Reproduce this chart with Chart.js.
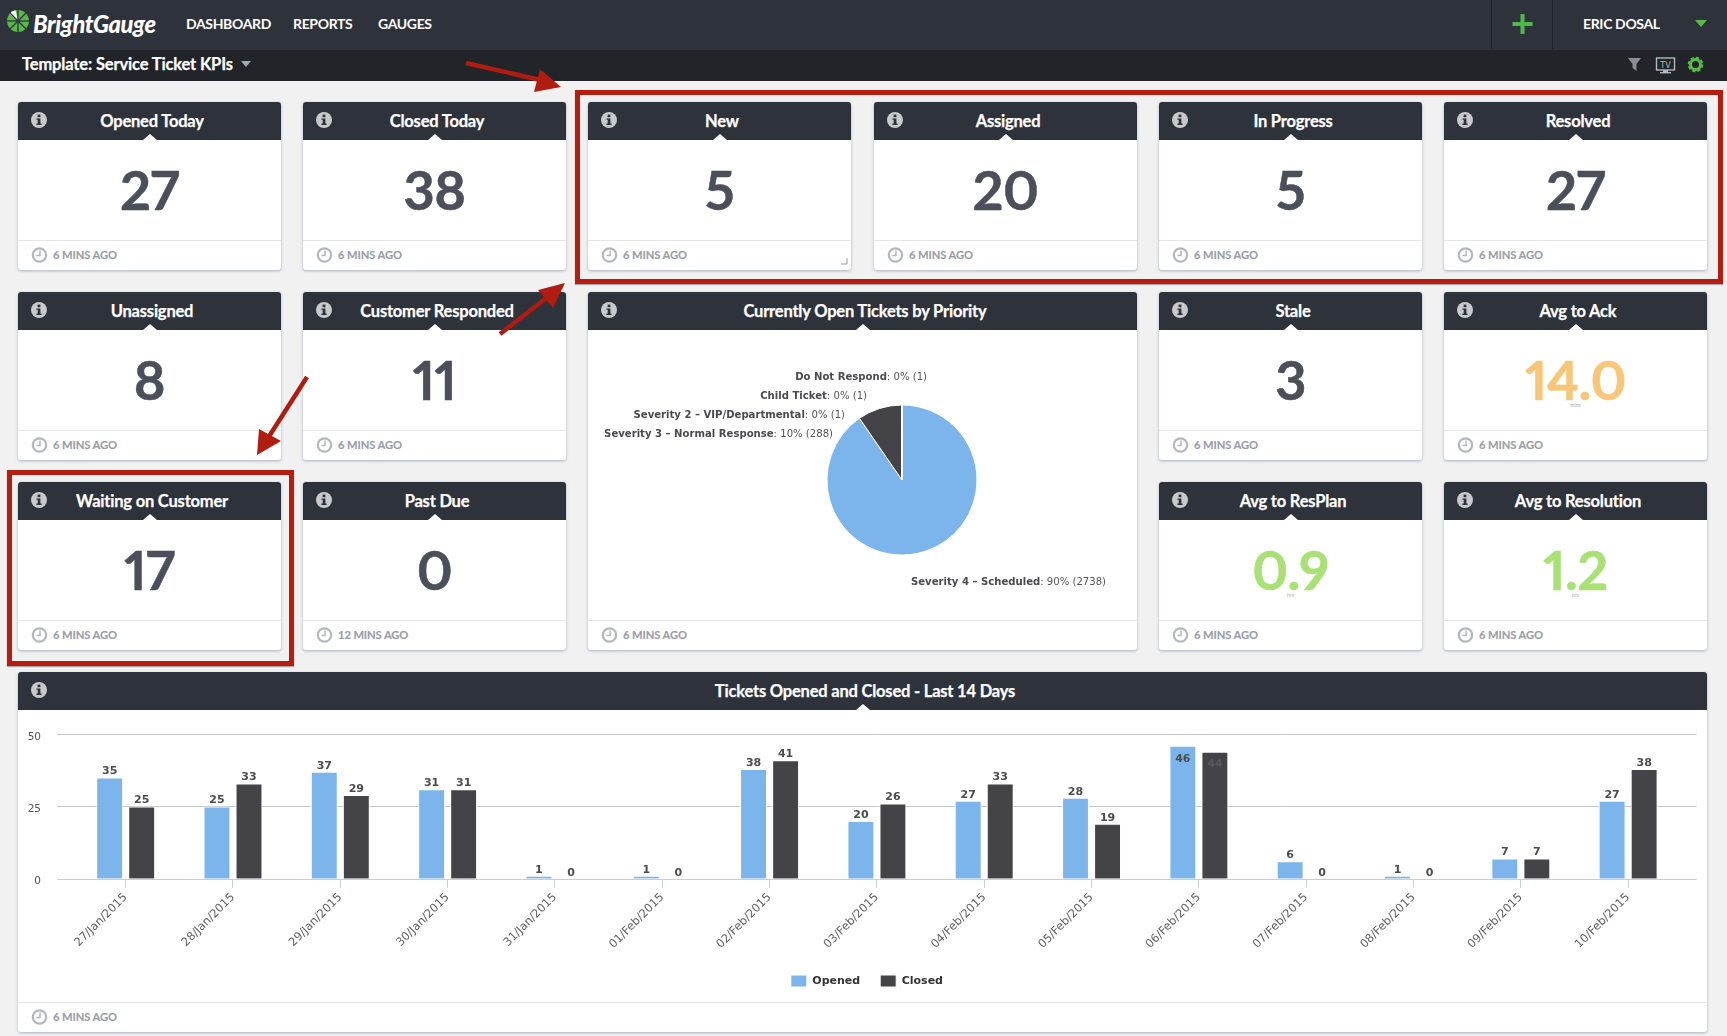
<!DOCTYPE html>
<html><head><meta charset="utf-8">
<script src="https://cdn.jsdelivr.net/npm/chart.js@4"></script>
<style>
*{box-sizing:border-box}
html,body{margin:0;padding:0;width:1727px;height:1036px;overflow:hidden;background:#f1f1f2;font-family:Lato,"Open Sans",sans-serif}
.abs{position:absolute}
#top{left:0;top:0;width:1727px;height:50px;background:#2e323b}
#sub{left:0;top:50px;width:1727px;height:31px;background:#212428}
.nav{position:absolute;top:14px;color:#fff;font-size:14px;font-weight:700;line-height:20px;white-space:nowrap;letter-spacing:-.35px}
.card{position:absolute;background:#fff;border-radius:3px;box-shadow:0 1px 3px rgba(110,120,150,.55)}
.head{position:absolute;left:0;right:0;top:0;height:38px;background:#2e323b;border-radius:3px 3px 0 0;color:#fff;font-weight:700;font-size:16.5px;line-height:39px;text-align:center;padding-left:5px;white-space:nowrap;letter-spacing:-.2px;-webkit-text-stroke:.25px #fff}
.notch{position:absolute;left:50%;top:32px;margin-left:-7px;width:0;height:0;border-left:7px solid transparent;border-right:7px solid transparent;border-bottom:6px solid #fff}
.info{position:absolute;left:12px;top:9px}
.foot{position:absolute;left:0;right:0;bottom:0;height:30.5px;border-top:1.5px solid #e6e6e8}
.foot svg{position:absolute;left:13px;top:5px}
.foot span{position:absolute;left:35px;top:6.5px;font-size:11.2px;font-weight:700;color:#9a9da8;line-height:16px;white-space:nowrap;letter-spacing:-.1px;-webkit-text-stroke:.15px #9a9da8}
.num{position:absolute;left:0;right:0;text-align:center;font-weight:700;font-size:54px;line-height:54px;color:#4b4f5a;top:61px;letter-spacing:-.5px;font-feature-settings:"pnum";-webkit-text-stroke:.5px currentColor}
.unit{position:absolute;left:0;right:0;text-align:center;font-size:5px;line-height:6px;color:#aaa;top:110px}
canvas{position:absolute;display:block}
.red{position:absolute;border:5px solid #b61c10;box-shadow:0 1px 1px rgba(0,0,0,.3);pointer-events:none}
</style></head><body>
<div id="top" class="abs"></div><div id="sub" class="abs"></div>
<svg class="abs" style="left:0;top:0" width="40" height="44" viewBox="0 0 40 44">
 <g transform="translate(18,21)">
  <circle r="11" fill="#58b947"/>
  <path d="M0 0L-8.6 -6.9A11 11 0 0 1 -2.5 -10.7Z" fill="#fff"/>
  <g stroke="#2e323b" stroke-width="1.3"><line x1="-11" y1="0" x2="11" y2="0"/><line x1="0" y1="-11" x2="0" y2="11"/><line x1="-8" y1="-8" x2="8" y2="8"/><line x1="-8" y1="8" x2="8" y2="-8"/></g>
 </g></svg>
<div class="nav" style="left:33px;top:9px;font-size:23.7px;line-height:30px;font-style:italic;font-weight:900;letter-spacing:-.4px">BrightGauge</div>
<div class="nav" style="left:186px">DASHBOARD</div>
<div class="nav" style="left:293px">REPORTS</div>
<div class="nav" style="left:378px">GAUGES</div>
<div class="nav" style="left:1583px">ERIC DOSAL</div>
<div class="abs" style="left:1491px;top:0;width:1px;height:49px;background:#1f2227"></div>
<div class="abs" style="left:1552px;top:0;width:1px;height:49px;background:#1f2227"></div>
<svg class="abs" style="left:1500px;top:0" width="227" height="81">
 <rect x="12.5" y="22" width="20" height="4" fill="#4cbb4a"/><rect x="20.5" y="14" width="4" height="20" fill="#4cbb4a"/>
 <polygon points="195,20 207,20 201,27" fill="#58b947"/>
 <polygon points="128,58 141,58 136.5,64 136.5,71 132.5,68 132.5,64" fill="#8a8d93"/>
 <rect x="156.5" y="58" width="18" height="12" fill="none" stroke="#b4b7bc" stroke-width="1.4"/><rect x="163" y="70" width="5" height="2" fill="#b4b7bc"/><rect x="160" y="72" width="11" height="1.4" fill="#b4b7bc"/>
 <text x="165.5" y="68" font-family="DejaVu Sans" font-size="8" fill="#b4b7bc" text-anchor="middle">TV</text>
 <circle cx="195.5" cy="64.5" r="5" fill="none" stroke="#58b947" stroke-width="3"/><circle cx="195.5" cy="64.5" r="6.6" fill="none" stroke="#58b947" stroke-width="2.4" stroke-dasharray="3.2 2"/>
</svg>
<div class="nav" style="left:22px;top:54px;font-size:16.5px;line-height:21px;letter-spacing:-.15px;-webkit-text-stroke:.25px #fff">Template: Service Ticket KPIs</div>
<svg class="abs" style="left:240px;top:60px" width="12" height="8"><polygon points="1,1 11,1 6,7" fill="#a5a7ab"/></svg>

<canvas id="pie" width="549" height="290" style="left:588px;top:330px;z-index:2"></canvas>
<canvas id="bars" width="1689" height="309" style="left:18px;top:697px;z-index:2"></canvas>

<script>
// ---- data ----
const kpiTitles = ["Opened Today","Closed Today","New","Assigned","In Progress","Resolved","Unassigned","Customer Responded","Stale","Avg to Ack","Waiting on Customer","Past Due","Avg to ResPlan","Avg to Resolution"];
const kpiValues = ["27","38","5","20","5","27","8","11","3","14.0","17","0","0.9","1.2"];
const kpiUnits  = ["","","","","","","","","","mins","","","hrs","hrs"];
const kpiAges   = ["6 MINS AGO","6 MINS AGO","6 MINS AGO","6 MINS AGO","6 MINS AGO","6 MINS AGO","6 MINS AGO","6 MINS AGO","6 MINS AGO","6 MINS AGO","6 MINS AGO","12 MINS AGO","6 MINS AGO","6 MINS AGO"];

const pieTitle  = "Currently Open Tickets by Priority";
const pieLabels = ["Severity 4 – Scheduled","Severity 3 – Normal Response","Severity 2 – VIP/Departmental","Child Ticket","Do Not Respond"];
const pieValues = [2738,288,1,1,1];

const barTitle   = "Tickets Opened and Closed - Last 14 Days";
const barDays    = ["27/Jan/2015","28/Jan/2015","29/Jan/2015","30/Jan/2015","31/Jan/2015","01/Feb/2015","02/Feb/2015","03/Feb/2015","04/Feb/2015","05/Feb/2015","06/Feb/2015","07/Feb/2015","08/Feb/2015","09/Feb/2015","10/Feb/2015"];
const openedName = "Opened";
const closedName = "Closed";
const opened     = [35,25,37,31,1,1,38,20,27,28,46,6,1,7,27];
const closed     = [25,33,29,31,0,0,41,26,33,19,44,0,0,7,38];
const yTicks     = [0,25,50];

// ---- layout ----
const BLUE="#7cb5ec", DARK="#434348";
const colX=[18,303,588,874,1159,1444], cardW=263;
const rowY=[102,292,482], cardH=168;
const kpiCells=[[0,0],[1,0],[2,0],[3,0],[4,0],[5,0],[0,1],[1,1],[4,1],[5,1],[0,2],[1,2],[4,2],[5,2]];
const kpiColors={ "14.0":"#f8c678","0.9":"#a9e174","1.2":"#a9e174" };
const infoSvg='<svg class="info" width="18" height="18"><circle cx="9" cy="9" r="8" fill="#c9c9cb"/><rect x="7.6" y="3.6" width="2.8" height="2.6" fill="#2e323b"/><path d="M6.5 7.4h3.9v5.2h1.2v1.4H6.4v-1.4h1.3V8.8H6.5z" fill="#2e323b"/></svg>';
const clockSvg='<svg width="18" height="18"><circle cx="8.5" cy="9" r="6.7" fill="#fff" stroke="#b4b6c0" stroke-width="2.2"/><path d="M9 4.6V9.6H5.4" fill="none" stroke="#b4b6c0" stroke-width="1.5"/></svg>';
function makeCard(x,y,w,h,title,age){
  const d=document.createElement("div");d.className="card";
  d.style.cssText=`left:${x}px;top:${y}px;width:${w}px;height:${h}px`;
  d.innerHTML=`<div class="head">${title}</div><div class="notch"></div>${infoSvg}<div class="foot">${clockSvg}<span>${age}</span></div>`;
  document.body.appendChild(d);return d;
}
kpiTitles.forEach((t,i)=>{
  const [c,r]=kpiCells[i];
  const d=makeCard(colX[c],rowY[r],cardW,cardH,t,kpiAges[i]);
  const n=document.createElement("div");n.className="num";n.textContent=kpiValues[i];
  if(kpiColors[kpiValues[i]])n.style.color=kpiColors[kpiValues[i]];
  d.appendChild(n);
  if(kpiUnits[i]){const u=document.createElement("div");u.className="unit";u.textContent=kpiUnits[i];d.appendChild(u);}
});
makeCard(588,292,549,358,pieTitle,"6 MINS AGO");
makeCard(18,672,1689,360,barTitle,"6 MINS AGO");

// ---- pie chart ----
const pieTotal=pieValues.reduce((a,b)=>a+b,0);
// label anchor relative to the pie centre: [dx, dy, align]
const pieLabelPlace=[[9,102,"left"],[-69,-46,"right"],[-57,-65,"right"],[-35,-84,"right"],[25,-103,"right"]];
const pieLabelPlugin={id:"pieLabels",afterDraw(chart){
  const ctx=chart.ctx,arc=chart.getDatasetMeta(0).data[0];
  ctx.save();ctx.textBaseline="middle";
  pieLabels.forEach((name,i)=>{
    const [dx,dy,al]=pieLabelPlace[i];
    const rest=`: ${Math.round(pieValues[i]/pieTotal*100)}% (${pieValues[i]})`;
    ctx.font='bold 10.1px "DejaVu Sans"';const w1=ctx.measureText(name).width;
    ctx.font='10.1px "DejaVu Sans"';const w2=ctx.measureText(rest).width;
    const x0=al==="left"?arc.x+dx:arc.x+dx-w1-w2, y=arc.y+dy;
    ctx.textAlign="left";
    ctx.font='bold 10.1px "DejaVu Sans"';ctx.fillStyle="#4a4a4f";ctx.fillText(name,x0,y);
    ctx.font='10.1px "DejaVu Sans"';ctx.fillStyle="#55555a";ctx.fillText(rest,x0+w1,y);
  });
  ctx.restore();
}};
new Chart(document.getElementById("pie"),{
  type:"pie",
  data:{labels:pieLabels,datasets:[{data:pieValues,backgroundColor:[BLUE,DARK,"#90ed7d","#f7a35c","#8085e9"],borderColor:"#fff",borderWidth:1,radius:75}]},
  options:{responsive:false,animation:false,layout:{padding:{left:239,right:160,top:75,bottom:65}},
    plugins:{legend:{display:false},tooltip:{enabled:false}}},
  plugins:[pieLabelPlugin]
});

// ---- bar chart ----
const gridPlugin={id:"gridExtended",
 afterLayout(chart){const l=chart.legend;l.left+=17;l.right+=17;l.top-=9;l.bottom-=9;},
 beforeDatasetsDraw(chart){
  const ctx=chart.ctx,y=chart.scales.y,a=chart.chartArea;
  ctx.save();ctx.lineWidth=1;
  yTicks.forEach(v=>{
    const py=Math.round(y.getPixelForValue(v))+.5;
    ctx.strokeStyle=v===0?"#c0d0e0":"#c4c4c4";
    ctx.beginPath();ctx.moveTo(a.left-15,py);ctx.lineTo(a.right+15,py);ctx.stroke();
  });
  ctx.restore();
}};
const valuePlugin={id:"values",afterDatasetsDraw(chart){
  const ctx=chart.ctx;
  ctx.save();ctx.font='bold 11px "DejaVu Sans"';ctx.textAlign="center";ctx.textBaseline="middle";
  chart.data.datasets.forEach((ds,di)=>{
    chart.getDatasetMeta(di).data.forEach((bar,i)=>{
      const v=ds.data[i],inside=v>=44;
      ctx.fillStyle=inside&&di===1?"#58585c":"#4c4c4c";
      ctx.fillText(String(v),bar.x,inside?bar.y+13:bar.y-6);
    });
  });
  ctx.restore();
}};
new Chart(document.getElementById("bars"),{
  type:"bar",
  data:{labels:barDays,datasets:[
    {label:openedName,data:opened,backgroundColor:BLUE,borderColor:"#fff",borderWidth:1,borderSkipped:"bottom",categoryPercentage:.597,barPercentage:.84},
    {label:closedName,data:closed,backgroundColor:DARK,borderColor:"#fff",borderWidth:1,borderSkipped:"bottom",categoryPercentage:.597,barPercentage:.84}
  ]},
  options:{responsive:false,animation:false,
    layout:{padding:{left:0,right:25.2,top:0,bottom:0}},
    scales:{
      x:{offset:true,
        grid:{offset:false,drawOnChartArea:false,tickLength:9,color:"#c0d0e0"},
        border:{display:false},
        ticks:{minRotation:45,maxRotation:45,autoSkip:false,padding:3,color:"#606060",font:{family:"DejaVu Sans",size:11.5}},
        afterFit(s){s.height=85.3;}},
      y:{min:0,max:50,
        afterBuildTicks(s){s.ticks=yTicks.map(v=>({value:v}));},
        grid:{display:false,drawTicks:false},border:{display:false},
        ticks:{padding:31,labelOffset:3,color:"#555",font:{family:"DejaVu Sans",size:10.5}},
        afterFit(s){s.width=54;}}
    },
    plugins:{tooltip:{enabled:false},
      legend:{position:"bottom",labels:{boxWidth:16,boxHeight:12,padding:20,color:"#333",font:{family:"DejaVu Sans",size:11,weight:"bold"}}}}
  },
  plugins:[gridPlugin,valuePlugin]
});
</script>

<div class="red" style="left:575px;top:90px;width:1148px;height:194px;z-index:5"></div>
<div class="red" style="left:7px;top:470px;width:287px;height:196px;z-index:5"></div>
<svg class="abs" style="left:0;top:0;z-index:6;pointer-events:none" width="1727" height="1036">
 <g fill="#b01c10" stroke="#b01c10">
  <line x1="466" y1="63" x2="545" y2="81" stroke-width="4.5"/><polygon points="561,87 540,69 534,92" stroke="none"/>
  <line x1="500" y1="334" x2="550" y2="295" stroke-width="4.5"/><polygon points="565,283 538,290 553,308" stroke="none"/>
  <line x1="307" y1="377" x2="268" y2="438" stroke-width="4.5"/><polygon points="257,455 259,429 281,441" stroke="none"/>
 </g>
 <path d="M847 258v6h-6" fill="none" stroke="#9a9da8" stroke-width="1"/>
</svg>
</body></html>
